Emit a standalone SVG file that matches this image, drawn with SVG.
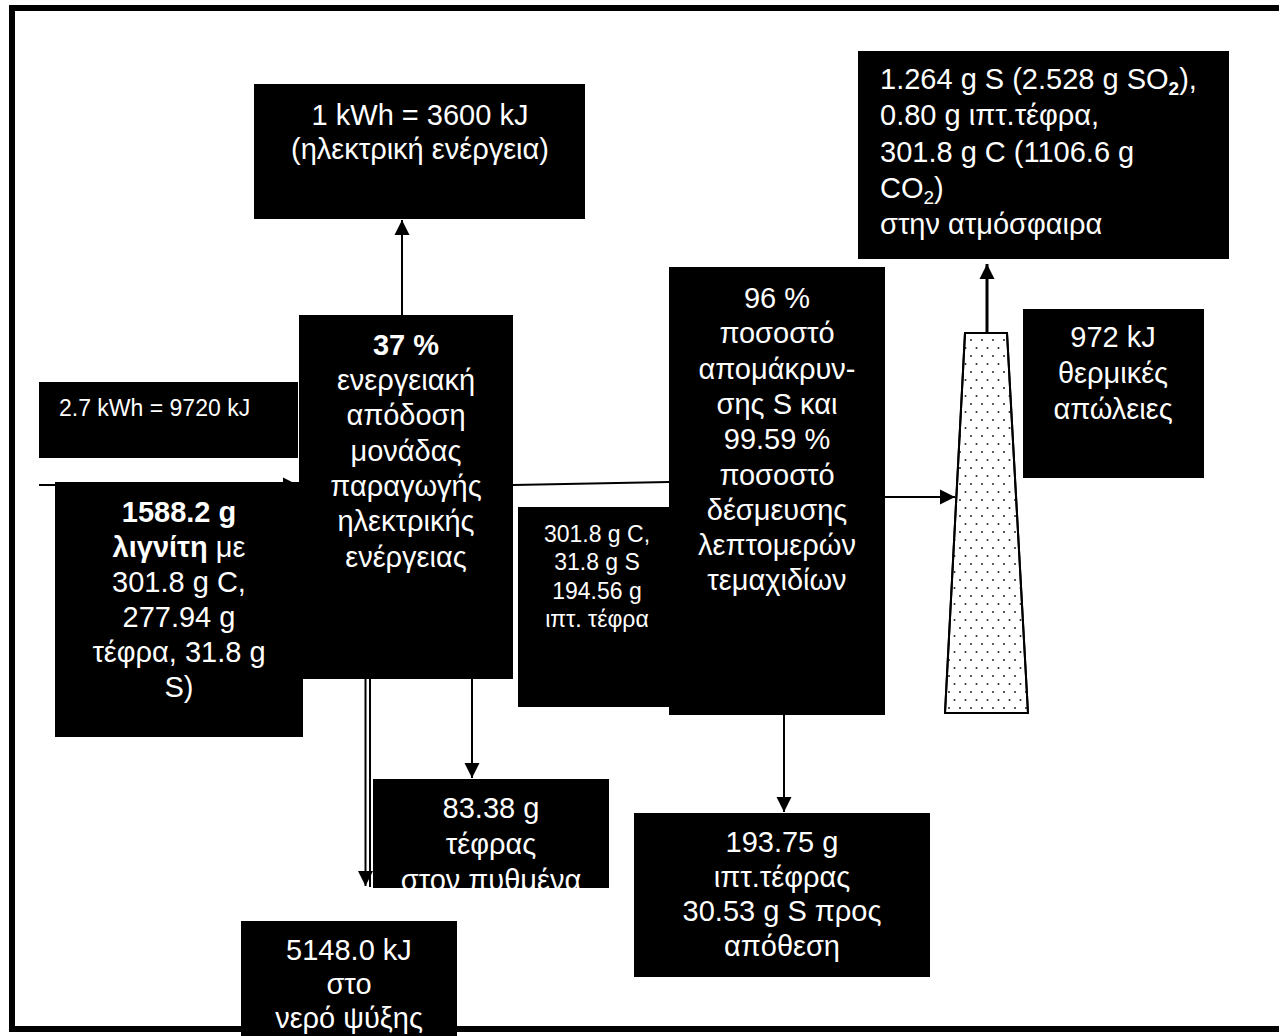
<svg xmlns="http://www.w3.org/2000/svg" width="1279" height="1036" viewBox="0 0 1279 1036">
  <style>
    .box { fill: #000; }
    .t { font-family: "Liberation Sans", Arial, sans-serif; font-size: 29px; fill: #fff; }
    .c { text-anchor: middle; }
    .s { font-size: 23px; }
    .b { font-weight: bold; }
    .ln { stroke: #000; stroke-width: 2; fill: none; }
    .thick { stroke-width: 3; }
  </style>
  <defs>
    <marker id="arr" markerUnits="userSpaceOnUse" markerWidth="16" markerHeight="16" viewBox="0 0 16 16" refX="15" refY="8" orient="auto">
      <path d="M0,0.5 L15,8 L0,15.5 Z" fill="#000"/>
    </marker>
    <pattern id="dots" patternUnits="userSpaceOnUse" width="11" height="16">
      <circle cx="3" cy="4" r="1" fill="#222"/>
      <circle cx="8.5" cy="12" r="1" fill="#222"/>
    </pattern>
    <clipPath id="clip83"><rect x="373" y="779" width="236" height="109"/></clipPath>
  </defs>

  <rect x="12" y="8" width="1290" height="1021" fill="#fff" stroke="#000" stroke-width="6"/>

  <g id="connectors">
    <line class="ln" x1="39" y1="485" x2="298" y2="485" marker-end="url(#arr)"/>
    <line class="ln" x1="402" y1="315" x2="402" y2="220" marker-end="url(#arr)"/>
    <line class="ln" x1="513" y1="485" x2="669" y2="482"/>
    <line class="ln" x1="885" y1="497" x2="955" y2="497" marker-end="url(#arr)"/>
    <line class="ln" x1="472" y1="679" x2="472" y2="778" marker-end="url(#arr)"/>
    <line class="ln" x1="365.5" y1="679" x2="365.5" y2="886" marker-end="url(#arr)"/>
    <line class="ln" x1="370" y1="679" x2="370" y2="887"/>
    <line class="ln" x1="784" y1="715" x2="784" y2="812" marker-end="url(#arr)"/>
    <line class="ln thick" x1="987" y1="333" x2="987" y2="264" marker-end="url(#arr)"/>
  </g>

  <g id="node-electric">
    <rect class="box" x="254" y="84" width="331" height="135"/>
    <text class="t c" x="420" y="125">1 kWh = 3600 kJ</text>
    <text class="t c" x="420" y="159">(ηλεκτρική ενέργεια)</text>
  </g>

  <g id="node-atmosphere">
    <rect class="box" x="858" y="51" width="371" height="208"/>
    <text class="t" x="880" y="89">1.264 g S (2.528 g SO<tspan font-size="19" font-weight="bold" dy="6">2</tspan><tspan dy="-6">),</tspan></text>
    <text class="t" x="880" y="125">0.80 g ιπτ.τέφρα,</text>
    <text class="t" x="880" y="162">301.8 g C (1106.6 g</text>
    <text class="t" x="880" y="198">CO<tspan font-size="19" dy="6">2</tspan><tspan dy="-6">)</tspan></text>
    <text class="t" x="880" y="234">στην ατμόσφαιρα</text>
  </g>

  <g id="node-input-energy">
    <rect class="box" x="39" y="382" width="259" height="76"/>
    <text class="t s" x="59" y="416">2.7 kWh = 9720 kJ</text>
  </g>

  <g id="node-plant">
    <rect class="box" x="299" y="315" width="214" height="364"/>
    <text class="t c b" x="406" y="355">37 %</text>
    <text class="t c" x="406" y="390">ενεργειακή</text>
    <text class="t c" x="406" y="425">απόδοση</text>
    <text class="t c" x="406" y="461">μονάδας</text>
    <text class="t c" x="406" y="496">παραγωγής</text>
    <text class="t c" x="406" y="531">ηλεκτρικής</text>
    <text class="t c" x="406" y="567">ενέργειας</text>
  </g>

  <g id="node-lignite">
    <rect class="box" x="55" y="482" width="248" height="255"/>
    <text class="t c b" x="179" y="522">1588.2 g</text>
    <text class="t c" x="179" y="557"><tspan font-weight="bold">λιγνίτη</tspan> με</text>
    <text class="t c" x="179" y="592">301.8 g C,</text>
    <text class="t c" x="179" y="627">277.94 g</text>
    <text class="t c" x="179" y="662">τέφρα, 31.8 g</text>
    <text class="t c" x="179" y="697">S)</text>
  </g>

  <g id="node-fluegas">
    <rect class="box" x="518" y="507" width="158" height="200"/>
    <text class="t c s" x="597" y="542">301.8 g C,</text>
    <text class="t c s" x="597" y="570">31.8 g S</text>
    <text class="t c s" x="597" y="599">194.56 g</text>
    <text class="t c s" x="597" y="627">ιπτ. τέφρα</text>
  </g>

  <g id="node-cleaning">
    <rect class="box" x="669" y="267" width="216" height="448"/>
    <text class="t c" x="777" y="308">96 %</text>
    <text class="t c" x="777" y="343">ποσοστό</text>
    <text class="t c" x="777" y="379">απομάκρυν-</text>
    <text class="t c" x="777" y="414">σης S και</text>
    <text class="t c" x="777" y="449">99.59 %</text>
    <text class="t c" x="777" y="485">ποσοστό</text>
    <text class="t c" x="777" y="520">δέσμευσης</text>
    <text class="t c" x="777" y="555">λεπτομερών</text>
    <text class="t c" x="777" y="590">τεμαχιδίων</text>
  </g>

  <g id="node-chimney">
    <polygon points="965,333 1007,333 1028,713 945,713" fill="#fff" stroke="#000" stroke-width="2"/>
    <polygon points="965,333 1007,333 1028,713 945,713" fill="url(#dots)" stroke="#000" stroke-width="2"/>
  </g>

  <g id="node-heatloss">
    <rect class="box" x="1023" y="309" width="181" height="169"/>
    <text class="t c" x="1113" y="347">972 kJ</text>
    <text class="t c" x="1113" y="383">θερμικές</text>
    <text class="t c" x="1113" y="419">απώλειες</text>
  </g>

  <g id="node-bottomash">
    <rect class="box" x="373" y="779" width="236" height="109"/>
    <g clip-path="url(#clip83)">
      <text class="t c" x="491" y="818">83.38 g</text>
      <text class="t c" x="491" y="854">τέφρας</text>
      <text class="t c" x="491" y="890">στον πυθμένα</text>
    </g>
  </g>

  <g id="node-disposal">
    <rect class="box" x="634" y="813" width="296" height="164"/>
    <text class="t c" x="782" y="852">193.75 g</text>
    <text class="t c" x="782" y="887">ιπτ.τέφρας</text>
    <text class="t c" x="782" y="921">30.53 g S προς</text>
    <text class="t c" x="782" y="956">απόθεση</text>
  </g>

  <g id="node-coolingwater">
    <rect class="box" x="241" y="921" width="216" height="120"/>
    <text class="t c" x="349" y="960">5148.0 kJ</text>
    <text class="t c" x="349" y="994">στο</text>
    <text class="t c" x="349" y="1028">νερό ψύξης</text>
  </g>
</svg>
